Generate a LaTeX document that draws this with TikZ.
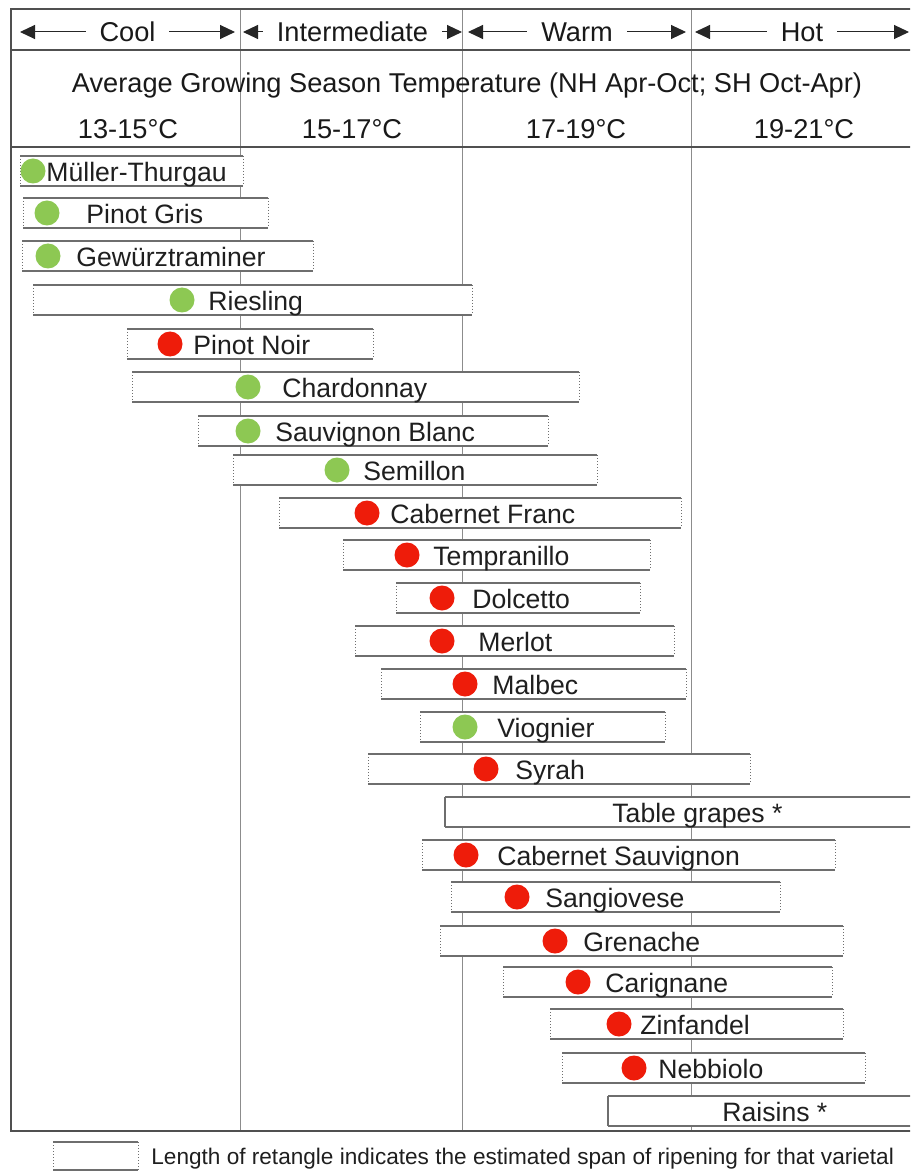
\documentclass[tikz,border=0pt]{standalone}
\usepackage{fontspec}
\setmainfont{Liberation Sans}
\usetikzlibrary{arrows.meta}
\definecolor{grgreen}{HTML}{8DC853}
\definecolor{grred}{HTML}{EE1C0A}
\definecolor{framegray}{HTML}{505050}
\definecolor{bargray}{HTML}{6E6E6E}
\tikzset{
  lbl/.style={font=\fontsize{13.3}{15}\selectfont, inner sep=0pt, anchor=base west, text=black!88},
  hdr/.style={font=\fontsize{13.6}{16}\selectfont, inner sep=0pt, text=black!90},
  cat/.style={hdr, fill=white, inner xsep=7pt, inner ysep=2pt},
  grapedot/.style={circle, inner sep=0pt, minimum size=12.5pt},
  barside/.style={draw=bargray, densely dotted, line width=0.5pt},
  barsolid/.style={draw=bargray, line width=1pt},
  baredge/.style={draw=bargray, line width=1.3pt},
  framel/.style={draw=framegray, line width=1.4pt},
  gridl/.style={draw=black!45, line width=0.5pt},
  catarrow/.style={{Triangle[length=7.5pt,width=7pt]}-{Triangle[length=7.5pt,width=7pt]}, line width=0.5pt, draw=black!85, fill=black!85},
  legtext/.style={font=\fontsize{11.3}{13}\selectfont, inner sep=0pt, anchor=base west, text=black!88},
}
% #1 name, #2 left, #3 right, #4 centre y, #5 dot x, #6 dot colour, #7 text x, #8 label
\newcommand\grapebar[8]{%
  \fill[white] (#2,#4-15) rectangle (#3,#4+15);
  \draw[barside] (#2,#4-15) -- (#2,#4+15) (#3,#4-15) -- (#3,#4+15);
  \draw[baredge] (#2,#4-15) -- (#3,#4-15) (#2,#4+15) -- (#3,#4+15);
  \node[grapedot, fill=#6] (#1d) at (#5,#4) {};
  \node[lbl] (#1t) at (#7,#4+10.5) {#8};
}
% bar without dot: #1 name, #2 left, #3 right, #4 centre y, #5 text x, #6 label
\newcommand\plaingrapebar[6]{%
  \fill[white] (#2,#4-15) rectangle (#3,#4+15);
  \draw[barsolid] (#2,#4-15) -- (#2,#4+15);
  \draw[baredge] (#2,#4-15) -- (#3,#4-15) (#2,#4+15) -- (#3,#4+15);
  \node[lbl] (#1t) at (#5,#4+10.5) {#6};
}
\begin{document}
\begin{tikzpicture}[x=0.5pt,y=-0.5pt]
\useasboundingbox (0,0) rectangle (910,1171);
\clip (0,0) rectangle (910,1171);
\fill[white] (0,0) rectangle (910,1171);

% grid lines
\draw[gridl] (240,9) -- (240,1131);
\draw[gridl] (462,9) -- (462,1131);
\draw[gridl] (691,9) -- (691,1131);

% frame
\draw[framel] (925,9) -- (11,9) -- (11,1131) -- (925,1131);
\draw[framel] (11,50) -- (925,50);
\draw[framel] (11,147) -- (925,147);

% category arrows
\coordinate (coolL) at (20,32);  \coordinate (coolR) at (235,32);
\coordinate (intL) at (243,32);  \coordinate (intR) at (462,32);
\coordinate (warmL) at (468,32); \coordinate (warmR) at (686,32);
\coordinate (hotL) at (695,32);  \coordinate (hotR) at (909,32);
\draw[catarrow] (coolL) -- node[cat] (cool) {Cool} (coolR);
\draw[catarrow] (intL) -- node[cat] (inter) {Intermediate} (intR);
\draw[catarrow] (warmL) -- node[cat] (warm) {Warm} (warmR);
\draw[catarrow] (hotL) -- node[cat] (hot) {Hot} (hotR);

% header texts
\node[hdr] (title) at (467,85) {Average Growing Season Temperature (NH Apr-Oct; SH Oct-Apr)};
\node[hdr] (t1) at (128,129) {13-15°C};
\node[hdr] (t2) at (352,129) {15-17°C};
\node[hdr] (t3) at (576,129) {17-19°C};
\node[hdr] (t4) at (804,129) {19-21°C};

% bars
\grapebar{mt}{20}{243}{171}{33}{grgreen}{46}{Müller-Thurgau}
\grapebar{pg}{23}{268}{213}{47}{grgreen}{86}{Pinot Gris}
\grapebar{gw}{22}{313}{256}{48}{grgreen}{76}{Gewürztraminer}
\grapebar{ri}{33}{472}{300}{182}{grgreen}{208}{Riesling}
\grapebar{pn}{127}{373}{344}{170}{grred}{193}{Pinot Noir}
\grapebar{ch}{132}{579}{387}{248}{grgreen}{282}{Chardonnay}
\grapebar{sb}{198}{548}{431}{248}{grgreen}{275}{Sauvignon Blanc}
\grapebar{se}{233}{597}{470}{337}{grgreen}{363}{Semillon}
\grapebar{cf}{279}{681}{513}{367}{grred}{390}{Cabernet Franc}
\grapebar{te}{343}{650}{555}{407}{grred}{433}{Tempranillo}
\grapebar{do}{396}{640}{598}{442}{grred}{472}{Dolcetto}
\grapebar{me}{355}{674}{641}{442}{grred}{478}{Merlot}
\grapebar{ma}{381}{686}{684}{465}{grred}{492}{Malbec}
\grapebar{vi}{420}{665}{727}{465}{grgreen}{497}{Viognier}
\grapebar{sy}{368}{750}{769}{486}{grred}{515}{Syrah}
\plaingrapebar{tg}{445}{930}{812}{612}{Table grapes *}
\grapebar{cs}{422}{835}{855}{466}{grred}{497}{Cabernet Sauvignon}
\grapebar{sa}{451}{780}{897}{517}{grred}{545}{Sangiovese}
\grapebar{gr}{440}{843}{941}{555}{grred}{583}{Grenache}
\grapebar{ca}{503}{832}{982}{578}{grred}{605}{Carignane}
\grapebar{zi}{550}{843}{1024}{619}{grred}{640}{Zinfandel}
\grapebar{ne}{562}{865}{1068}{634}{grred}{658}{Nebbiolo}
\plaingrapebar{ra}{608}{930}{1111}{722}{Raisins *}

% legend
\draw[barside] (53,1142) -- (53,1170) (138,1142) -- (138,1170);
\draw[baredge] (53,1142) -- (138,1142) (53,1170) -- (138,1170);
\node[legtext] (legend) at (151,1164) {Length of retangle indicates the estimated span of ripening for that varietal};
\end{tikzpicture}
\end{document}
